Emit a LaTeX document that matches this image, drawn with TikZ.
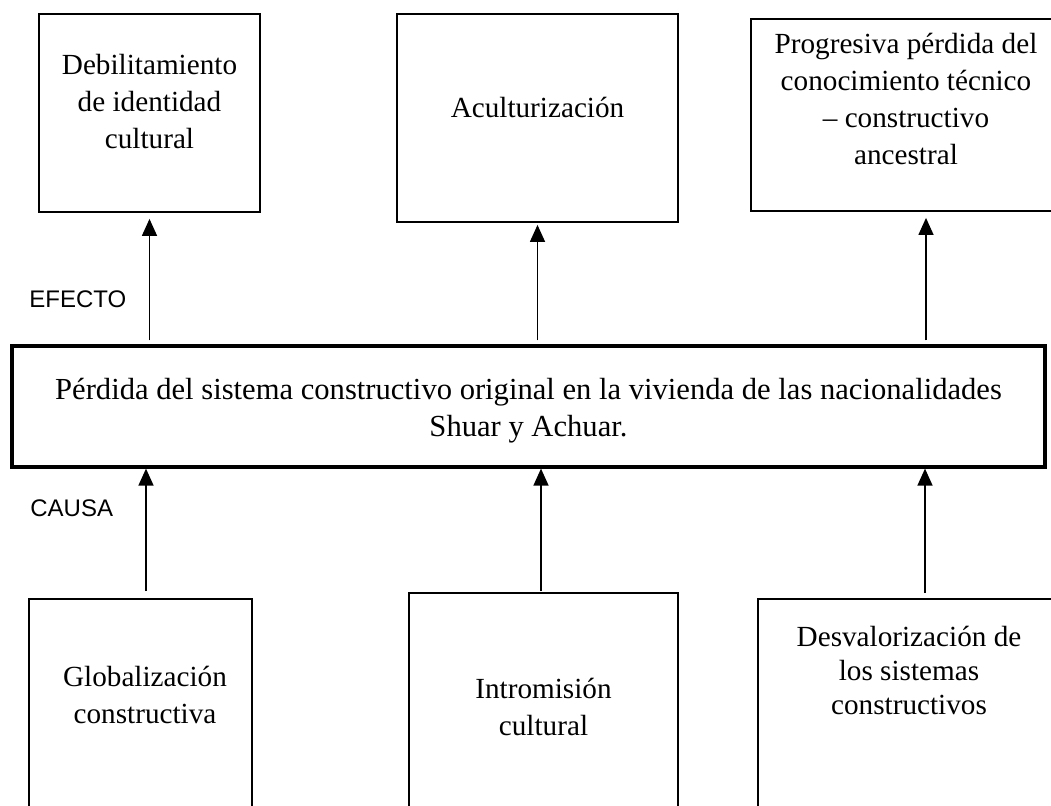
\documentclass[tikz,border=0pt]{standalone}
\usepackage{fontspec}
\setmainfont{Liberation Serif}
\newfontfamily\arialfont{Liberation Sans}
\usetikzlibrary{arrows.meta,positioning}

\begin{document}
\begin{tikzpicture}[x=0.5pt,y=-0.5pt,
  caja/.style={draw,rectangle,line width=0.9pt,inner sep=0pt},
  texto/.style={align=center,inner sep=0pt,font=\fontsize{14.6}{18.5}\selectfont},
  etiqueta/.style={anchor=west,inner sep=0pt,font=\arialfont\fontsize{12}{14}\selectfont},
  flecha/.style={-{Triangle[length=8.5pt,width=7.5pt]},line width=0.7pt}]
  \fill[white] (0,0) rectangle (1051,805);
  \useasboundingbox (0,0) rectangle (1051,805);
  \clip (0,0) rectangle (1051,805);

  % problema central
  \node[caja,line width=1.6pt,minimum width=516.5pt,minimum height=60.5pt] (main) at (528.5,406.5) {};
  \node[texto,font=\fontsize{15.3}{18.5}\selectfont] (tmain) at ([yshift=-2pt]main.center)
    {P\'erdida del sistema constructivo original en la vivienda de las nacionalidades\\Shuar y Achuar.};

  % efectos
  \node[caja,minimum width=110.5pt,minimum height=99pt] (e1) at (149.5,113) {};
  \node[caja,minimum width=140.5pt,minimum height=104pt] (e2) at (537.5,118) {};
  \node[caja,minimum width=155pt,minimum height=96pt] (e3) at (906,115) {};
  \node[texto] (te1) at ([yshift=-44pt]e1.north) {Debilitamiento\\de identidad\\cultural};
  \node[texto] (te2) at ([yshift=-47pt]e2.north) {Aculturizaci\'on};
  \node[texto] (te3) at ([yshift=-40.5pt]e3.north) {Progresiva p\'erdida del\\conocimiento t\'ecnico\\-- constructivo\\ancestral};

  % causas
  \node[caja,minimum width=111.5pt,minimum height=120.5pt] (c1) at (140.5,719.5) {};
  \node[caja,minimum width=134.5pt,minimum height=123.5pt] (c2) at (543.5,716.5) {};
  \node[caja,minimum width=151pt,minimum height=120.5pt] (c3) at (909,719.5) {};
  \node[texto] (tc1) at ([xshift=2.25pt,yshift=-48.5pt]c1.north) {Globalizaci\'on\\constructiva};
  \node[texto] (tc2) at ([yshift=-57.5pt]c2.north) {Intromisi\'on\\cultural};
  \node[texto,font=\fontsize{14.6}{17}\selectfont] (tc3) at ([yshift=-36pt]c3.north) {Desvalorizaci\'on de\\los sistemas\\constructivos};

  \node[etiqueta] (efecto) at (29,299) {EFECTO};
  \node[etiqueta] (causa) at (30,508) {CAUSA};

  \foreach \n/\dx/\s in {e1/0pt/3pt, e2/0pt/1pt, e3/10pt/3pt}
    \draw[flecha] ([xshift=\dx,yshift=2pt]main.north -| \n.south) -- ([xshift=\dx,yshift=-\s]\n.south);

  \foreach \n/\dx/\dy in {c1/2.75pt/3.5pt, c2/-1.25pt/0.5pt, c3/8pt/2.5pt}
    \draw[flecha] ([xshift=\dx,yshift=\dy]\n.north) -- ([xshift=\dx]\n.north |- main.south);
\end{tikzpicture}
\end{document}
